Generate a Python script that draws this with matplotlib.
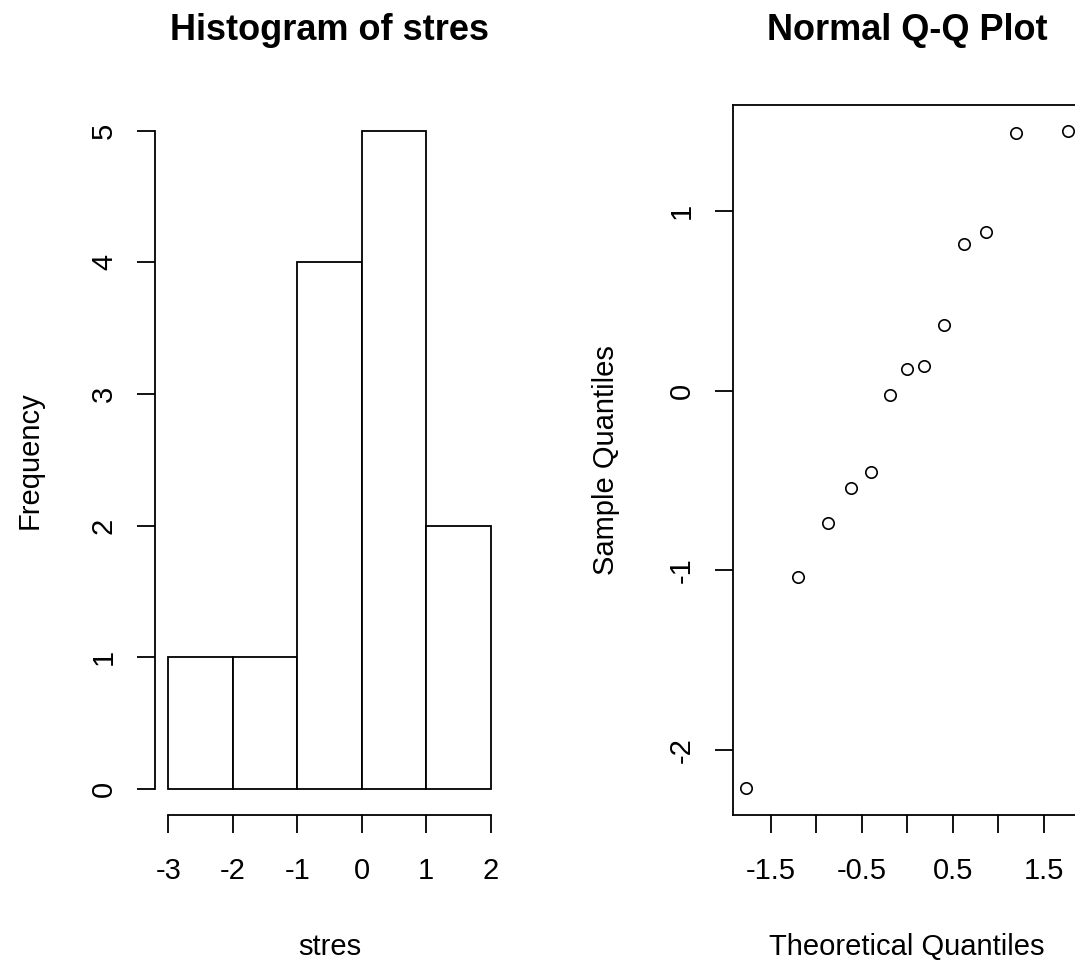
import matplotlib
matplotlib.use("Agg")
import matplotlib.pyplot as plt
import numpy as np

# ---- data ----
stres = [-2.215, -1.038, -0.736, -0.543, -0.454, -0.024, 0.119, 0.137,
         0.364, 0.818, 0.881, 1.432, 1.445]
hist_breaks = [-3, -2, -1, 0, 1, 2]
theoretical_q = [-1.77, -1.20, -0.87, -0.62, -0.40, -0.19, 0.0, 0.19,
                 0.40, 0.62, 0.87, 1.20, 1.77]
hist_xticks = [-3, -2, -1, 0, 1, 2]
hist_yticks = [0, 1, 2, 3, 4, 5]
qq_xticks = [-1.5, -1.0, -0.5, 0.0, 0.5, 1.0, 1.5]
qq_xticklabels = ["-1.5", "", "-0.5", "", "0.5", "", "1.5"]
qq_yticks = [-2, -1, 0, 1]
qq_yticklabels = ["-2", "-1", "0", "1"]

plt.rcParams['font.family'] = ['Liberation Sans', 'DejaVu Sans']
plt.rcParams['axes.unicode_minus'] = False

W, H = 1075, 961
fig = plt.figure(figsize=(W / 100, H / 100), dpi=100)

bottom = (H - 815) / H
height = (815 - 104.5) / H
width = 348.2 / W
ax1 = fig.add_axes([155.4 / W, bottom, width, height])
ax2 = fig.add_axes([733 / W, bottom, width, height])

LW = 1.3
TICK_FS = 21
TITLE_FS = 26

# ---- histogram ----
ax1.hist(stres, bins=hist_breaks, facecolor='white', edgecolor='black',
         linewidth=LW)
ax1.set_xlim(-3.2, 2.2)
ax1.set_ylim(-0.2, 5.2)
for s in ['top', 'right']:
    ax1.spines[s].set_visible(False)
ax1.spines['left'].set_bounds(0, 5)
ax1.spines['bottom'].set_bounds(-3, 2)
ax1.set_xticks(hist_xticks)
ax1.set_xticklabels([str(v) for v in hist_xticks])
ax1.set_yticks(hist_yticks)
ax1.set_yticklabels([str(v) for v in hist_yticks], rotation=90, va='center')
ax1.set_title("Histogram of stres", fontsize=TITLE_FS, fontweight='bold',
              y=(815 - 31) / 710.5, va='center', pad=0)
ax1.set_xlabel("stres", fontsize=TICK_FS)
ax1.set_ylabel("Frequency", fontsize=TICK_FS)
ax1.xaxis.set_label_coords(0.5, -(947 - 815) / 710.5)
ax1.xaxis.label.set_va('center')
ax1.yaxis.set_label_coords((30 - 155.4) / 348.2, 0.5)
ax1.yaxis.label.set_va('center')

# ---- QQ plot ----
ax2.plot(theoretical_q, sorted(stres), linestyle='none', marker='o',
         markersize=8.2, markerfacecolor='none', markeredgecolor='black',
         markeredgewidth=1.2)
ax2.set_xlim(-1.912, 1.912)
ax2.set_ylim(-2.363, 1.593)
ax2.set_xticks(qq_xticks)
ax2.set_xticklabels(qq_xticklabels)
ax2.set_yticks(qq_yticks)
ax2.set_yticklabels(qq_yticklabels, rotation=90, va='center')
ax2.set_title("Normal Q-Q Plot", fontsize=TITLE_FS, fontweight='bold',
              y=(815 - 31) / 710.5, va='center', pad=0)
ax2.set_xlabel("Theoretical Quantiles", fontsize=TICK_FS)
ax2.set_ylabel("Sample Quantiles", fontsize=TICK_FS)
ax2.xaxis.set_label_coords(0.5, -(947 - 815) / 710.5)
ax2.xaxis.label.set_va('center')
ax2.yaxis.set_label_coords((606 - 733) / 348.2, 0.5)
ax2.yaxis.label.set_va('center')

for ax in (ax1, ax2):
    for s in ax.spines.values():
        s.set_linewidth(LW)
    ax.tick_params(axis='both', direction='out', length=13, width=LW,
                   labelsize=TICK_FS, colors='black')
    ax.tick_params(axis='x', pad=17)
    ax.tick_params(axis='y', pad=14)

fig.savefig("out.png", dpi=100)
